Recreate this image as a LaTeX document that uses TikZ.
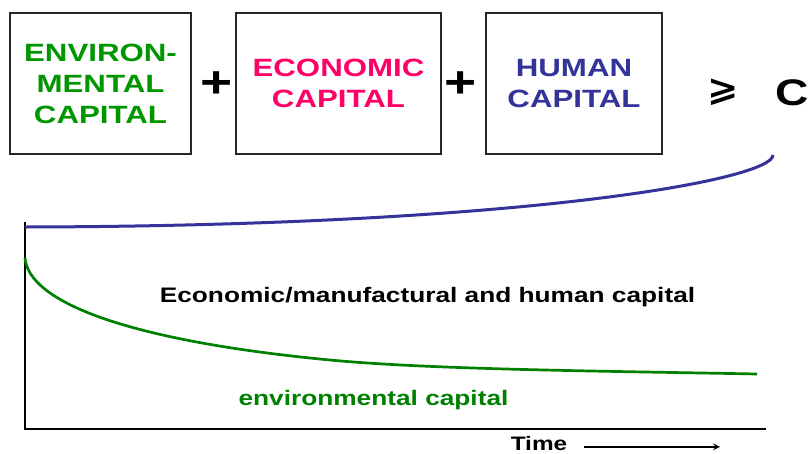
\documentclass[tikz,border=0pt]{standalone}
\usepackage{fontspec}
\setmainfont{Liberation Sans}
\newfontfamily\largefont[FakeStretch=1.25]{Liberation Sans}
\newfontfamily\symbfont[FakeStretch=1.1]{DejaVu Sans}
\usetikzlibrary{arrows}

\definecolor{envgreen}{RGB}{0,150,0}
\definecolor{courbevert}{RGB}{0,128,0}
\definecolor{ecopink}{RGB}{255,0,102}
\definecolor{humblue}{RGB}{51,51,153}

\begin{document}
\begin{tikzpicture}[x=1pt,y=-1pt,
    boite/.style={draw=black!85, line width=1.2pt, minimum height=141pt, inner sep=0pt,
      align=center, font=\largefont\bfseries\fontsize{25}{31}\selectfont},
    signe/.style={inner sep=0pt, font=\largefont\bfseries\fontsize{44}{44}\selectfont},
    legende/.style={inner sep=0pt, anchor=base, font=\largefont\bfseries\fontsize{21}{25}\selectfont}]
        \useasboundingbox (0,0) rectangle (808,453);

        % Les trois capitaux
        \node[boite, minimum width=181pt, text=envgreen] (env) at (100.5,83.5) {ENVIRON-\\MENTAL\\CAPITAL};
        \node[boite, minimum width=205pt, text=ecopink] (eco) at (338.5,83.5) {ECONOMIC\\CAPITAL};
        \node[boite, minimum width=176pt, text=humblue] (hum) at (574,83.5) {HUMAN\\CAPITAL};

        % Signes de la somme et constante
        \node[signe] (plusA) at (216.5,85) {+};
        \node[signe] (plusB) at (460.5,85) {+};
        \node[inner sep=0pt, font=\symbfont\bfseries\fontsize{34}{34}\selectfont] (geq) at (723,92) {⩾};
        \node[signe, anchor=base, font=\largefont\bfseries\fontsize{37}{37}\selectfont] (cst) at (792,105) {C};

        % Axes
        \coordinate (O) at (25,429);
        \coordinate (haut) at (25,222);
        \coordinate (fin) at (766,429);
        \draw[line width=2.2pt] (haut) -- (O) -- (fin);

        % Courbe du capital total (vers C)
        \coordinate (depart) at (25,227);
        \coordinate (bout) at (773,155);
        \draw[humblue, line width=3pt] (depart) .. controls (520,226) and (773,180) .. (bout);

        % Courbe du capital environnemental
        \coordinate (envdepart) at (25,257.7);
        \coordinate (envbout) at (757,374);
        \draw[courbevert, line width=2.7pt] (envdepart) .. controls (28,300) and (120,340) .. (330,360)
              .. controls (430,369.5) and (600,371) .. (envbout);

        % Legendes
        \node[legende] (ecolbl) at (427.5,302) {Economic/manufactural and human capital};
        \node[legende, text=courbevert] (envlbl) at (373.5,405) {environmental capital};
        \node[legende, font=\largefont\bfseries\fontsize{19.5}{22}\selectfont] (temps) at (539,450.3) {Time};

        % Fleche du temps
        \coordinate (tA) at (584,446.8);
        \coordinate (tB) at (720,446.8);
        \draw[->, >=stealth, line width=2pt] (tA) -- (tB);

\end{tikzpicture}
\end{document}
